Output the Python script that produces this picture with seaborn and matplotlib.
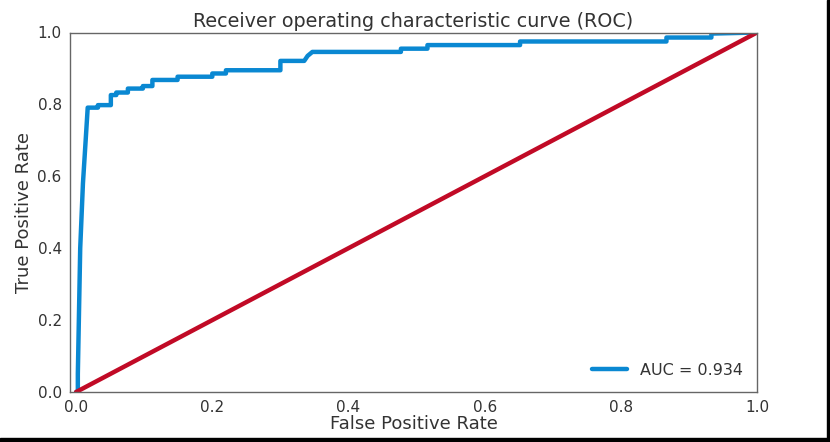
import matplotlib
matplotlib.use("Agg")
import matplotlib.pyplot as plt
from matplotlib.patches import Rectangle
import seaborn as sns
import pandas as pd

# ROC curve vertices
fpr = [0.0, 0.0025, 0.0025, 0.006, 0.010, 0.014, 0.017, 0.032, 0.032, 0.051, 0.051,
       0.059, 0.059, 0.076, 0.076, 0.098, 0.098, 0.112, 0.112, 0.149, 0.149,
       0.200, 0.200, 0.220, 0.220, 0.300, 0.300, 0.335, 0.340, 0.347, 0.477,
       0.477, 0.516, 0.516, 0.652, 0.652, 0.867, 0.867, 0.933, 0.933, 1.0]
tpr = [0.0, 0.0, 0.05, 0.40, 0.58, 0.70, 0.791, 0.791, 0.798, 0.798, 0.826,
       0.826, 0.833, 0.833, 0.844, 0.844, 0.851, 0.851, 0.868, 0.868, 0.877,
       0.877, 0.886, 0.886, 0.895, 0.895, 0.921, 0.921, 0.935, 0.946, 0.946,
       0.955, 0.955, 0.965, 0.965, 0.975, 0.975, 0.986, 0.986, 0.997, 1.0]
diag = [0.0, 1.0]
auc_label = "AUC = 0.934"
title = "Receiver operating characteristic curve (ROC)"

sns.set_style("white")
plt.rcParams['font.family'] = ['DejaVu Sans']

fig = plt.figure(figsize=(8.30, 4.42), dpi=100)
ax = fig.add_axes([70/830, 50/442, 687/830, 359.5/442])

roc = pd.DataFrame({"fpr": fpr, "tpr": tpr})
sns.lineplot(data=roc, x="fpr", y="tpr", sort=False, estimator=None,
             color="#0a88d2", linewidth=3.2, label=auc_label, ax=ax)
sns.lineplot(x=diag, y=diag, color="#c10a26", linewidth=3.2, ax=ax)

ax.set_xlim(-0.009, 1)
ax.set_ylim(0, 1)
ax.set_xticks([0, 0.2, 0.4, 0.6, 0.8, 1.0])
ax.set_yticks([0, 0.2, 0.4, 0.6, 0.8, 1.0])
ax.tick_params(axis="both", labelsize=11, colors="#333333", length=0)
ax.tick_params(axis="x", pad=6)
ax.tick_params(axis="y", pad=6)
ax.set_xlabel("False Positive Rate", fontsize=13, color="#333333", labelpad=0)
ax.set_ylabel("True Positive Rate", fontsize=13, color="#333333", labelpad=3)
ax.set_title(title, fontsize=13.8, color="#333333", pad=4)
for s in ax.spines.values():
    s.set_color("#666666")
    s.set_linewidth(1.0)

leg = ax.legend(loc="lower right", frameon=False, fontsize=11.5, handlelength=2.2)
for t in leg.get_texts():
    t.set_color("#333333")

# black border along right and bottom edges of the picture
fig.add_artist(Rectangle((0, 0), 1, 4/442, transform=fig.transFigure,
                         color="black", zorder=10))
fig.add_artist(Rectangle((827/830, 0), 3/830, 1, transform=fig.transFigure,
                         color="black", zorder=10))

fig.savefig("out.png", dpi=100)
